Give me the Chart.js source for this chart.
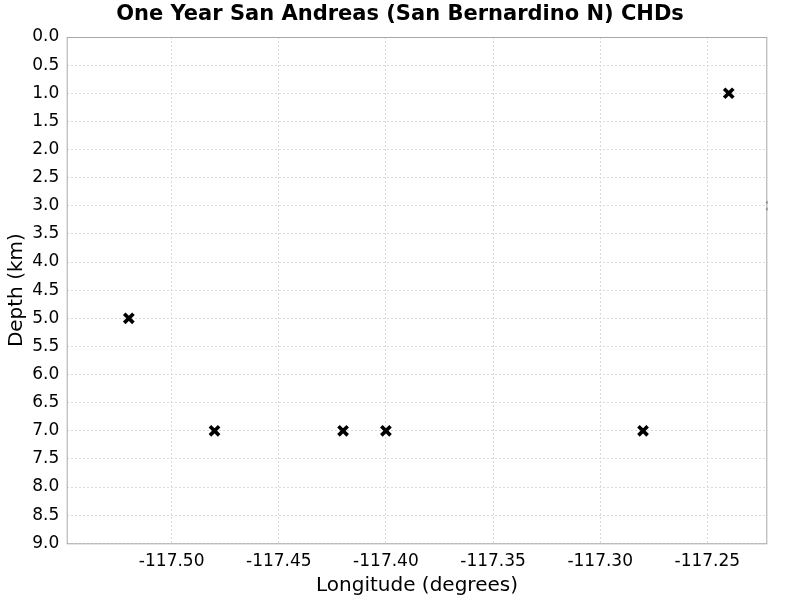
<!DOCTYPE html>
<html>
<head>
<meta charset="utf-8">
<script src="https://cdn.jsdelivr.net/npm/chart.js@4"></script>
<style>
  html, body { margin: 0; padding: 0; background: #fff; }
  #wrap { width: 800px; height: 600px; }
</style>
</head>
<body>
<div id="wrap"><canvas id="chd-chart" width="800" height="600"></canvas></div>
<script>
// values
const longitudes = [-117.52, -117.48, -117.42, -117.40, -117.28, -117.24, -117.22, -117.22];
const depths = [5.0, 7.0, 7.0, 7.0, 7.0, 1.0, 3.0, 9.1];
const xRange = [-117.549, -117.222];
const yRange = [0, 9];

const FONT = 'DejaVu Sans';

// grey frame round the plot area
const frame = {
    id: 'frame',
    afterDraw(chart) {
        const a = chart.chartArea;
        const ctx = chart.ctx;
        ctx.save();
        ctx.strokeStyle = '#a8a8a8';
        ctx.lineWidth = 1;
        ctx.strokeRect(a.left + 0.5, a.top + 0.5, a.right - a.left - 1, a.bottom - a.top);
        ctx.restore();
    }
};

const points = longitudes.map((x, i) => ({ x: x, y: depths[i] }));

new Chart(document.getElementById('chd-chart'), {
    type: 'scatter',
    data: {
        datasets: [{
            label: 'CHDs',
            data: points,
            pointStyle: 'crossRot',
            pointRadius: 6.5,
            pointHoverRadius: 6.5,
            pointBorderWidth: 3.6,
            borderColor: '#000',
            backgroundColor: '#000',
            clip: 0
        }]
    },
    options: {
        responsive: false,
        animation: false,
        layout: { padding: 0 },
        plugins: {
            legend: { display: false },
            tooltip: { enabled: false },
            title: {
                display: true,
                text: 'One Year San Andreas (San Bernardino N) CHDs',
                color: '#000',
                font: { family: FONT, size: 21, weight: 'bold' },
                padding: { top: 2.4, bottom: 9.4 }
            }
        },
        scales: {
            x: {
                type: 'linear',
                min: xRange[0],
                max: xRange[1],
                afterBuildTicks(scale) {
                    const t = [];
                    for (let v = -117.50; v <= scale.max + 1e-9; v += 0.05) t.push({ value: +v.toFixed(2) });
                    scale.ticks = t;
                },
                afterFit(scale) { scale.height = 56.7; },
                ticks: {
                    color: '#000',
                    font: { family: FONT, size: 17 },
                    padding: 8,
                    maxRotation: 0,
                    callback: v => v.toFixed(2)
                },
                grid: { color: '#dadada', drawTicks: false },
                border: { display: false, dash: [2, 2] },
                title: {
                    display: true,
                    text: 'Longitude (degrees)',
                    color: '#000',
                    font: { family: FONT, size: 20 },
                    padding: { top: 0, bottom: 2 }
                }
            },
            y: {
                type: 'linear',
                reverse: true,
                min: yRange[0],
                max: yRange[1],
                afterFit(scale) { scale.width = 66.7; },
                ticks: {
                    stepSize: 0.5,
                    color: '#000',
                    font: { family: FONT, size: 17 },
                    padding: 7.5,
                    callback: v => v.toFixed(1)
                },
                grid: { color: '#dadada', drawTicks: false },
                border: { display: false, dash: [2, 2] },
                title: {
                    display: true,
                    text: 'Depth (km)',
                    color: '#000',
                    font: { family: FONT, size: 20 },
                    padding: { top: 4.5, bottom: 0 }
                }
            },
            // empty right margin so the title centres on the whole page
            yRight: {
                type: 'linear',
                position: 'right',
                min: yRange[0],
                max: yRange[1],
                afterFit(scale) { scale.width = 32.7; },
                ticks: { display: false },
                grid: { display: false, drawTicks: false },
                border: { display: false }
            }
        }
    },
    plugins: [frame]
});
</script>
</body>
</html>
